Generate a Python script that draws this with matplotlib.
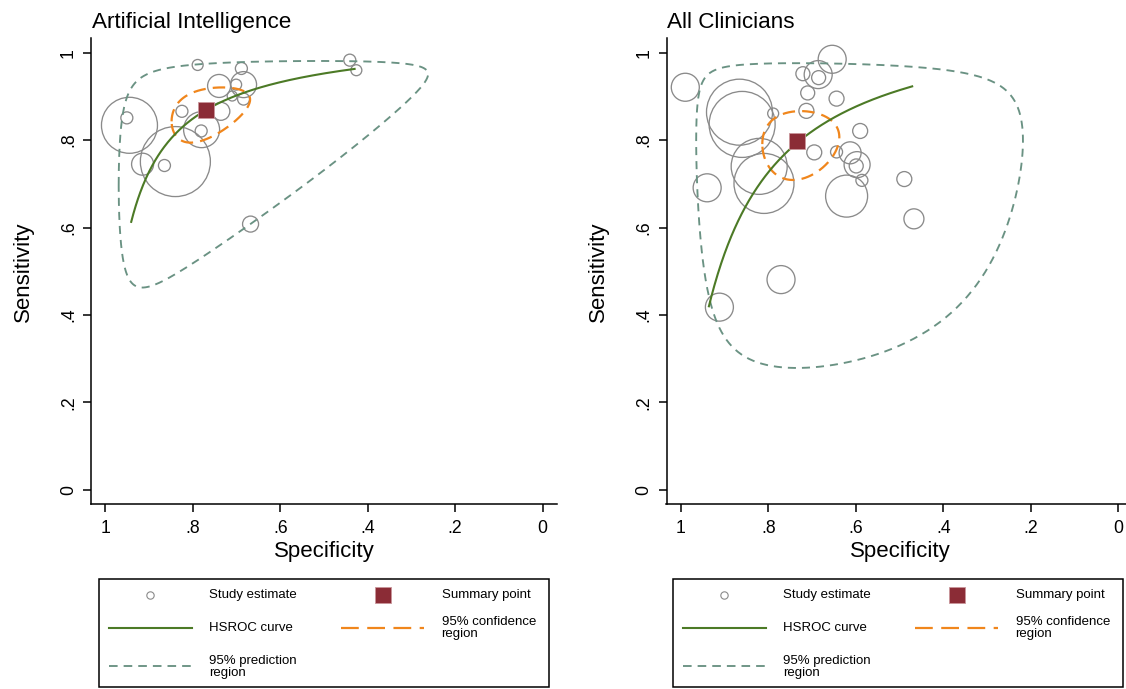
import numpy as np
import matplotlib
matplotlib.use("Agg")
import matplotlib.pyplot as plt
from matplotlib.lines import Line2D
from matplotlib.patches import Rectangle

plt.rcParams['font.family'] = ['Liberation Sans', 'DejaVu Sans']

# ---------------- Artificial Intelligence ----------------
ai_spec = [0.945, 0.951, 0.840, 0.915, 0.865, 0.780, 0.781, 0.825, 0.736, 0.740,
           0.789, 0.689, 0.684, 0.701, 0.710, 0.684, 0.441, 0.426, 0.668]
ai_sens = [0.834, 0.851, 0.751, 0.745, 0.742, 0.824, 0.821, 0.866, 0.866, 0.924,
           0.972, 0.964, 0.927, 0.927, 0.901, 0.894, 0.983, 0.960, 0.608]
ai_weight = [784, 36, 1225, 121, 36, 324, 36, 36, 81, 132,
             30, 36, 169, 30, 25, 36, 36, 30, 64]
ai_summary = [0.771, 0.870]                 # specificity, sensitivity
ai_hsroc_coef = [3.00, 0.917]               # logit(sens) = a + b * logit(1 - spec)
ai_hsroc_spec = [0.941, 0.430]
ai_conf_region = [0.51, 0.55, -0.40]        # logit half-widths (spec, sens), correlation
ai_pred_region = [2.25, 2.05, -0.52]

# ---------------- All Clinicians ----------------
cl_spec = [0.990, 0.866, 0.860, 0.789, 0.821, 0.810, 0.940, 0.771, 0.912, 0.654,
           0.686, 0.685, 0.721, 0.710, 0.644, 0.713, 0.590, 0.695, 0.644, 0.613,
           0.597, 0.599, 0.586, 0.621, 0.489, 0.467]
cl_sens = [0.921, 0.864, 0.836, 0.861, 0.740, 0.701, 0.691, 0.481, 0.418, 0.985,
           0.950, 0.943, 0.952, 0.908, 0.895, 0.867, 0.821, 0.772, 0.773, 0.771,
           0.744, 0.741, 0.708, 0.672, 0.711, 0.620]
cl_weight = [196, 1089, 1089, 30, 784, 900, 196, 196, 196, 196,
             196, 49, 49, 49, 56, 56, 56, 56, 36, 121,
             169, 49, 36, 441, 56, 100]
cl_summary = [0.735, 0.799]
cl_hsroc_coef = [2.368, 1.003]
cl_hsroc_spec = [0.936, 0.471]
cl_conf_region = [0.455, 0.49, -0.10]
cl_pred_region = [2.30, 2.33, 0.0]

tick_vals = [0, 0.2, 0.4, 0.6, 0.8, 1.0]
tick_text = ['0', '.2', '.4', '.6', '.8', '1']

BUBBLE = '#8a8a8a'
CURVE = '#4c7a26'
SUMMARY = '#8b2c36'
CONF = '#f0861c'
PRED = '#6a9283'


def logit(p):
    p = np.asarray(p, dtype=float)
    return np.log(p / (1 - p))


def expit(x):
    return 1 / (1 + np.exp(-x))


def hsroc_curve(coef, spec_ends, n=300):
    spec = np.linspace(spec_ends[0], spec_ends[1], n)
    sens = expit(coef[0] + coef[1] * logit(1 - spec))
    return spec, sens


def region_outline(summary, region, n=400):
    half_spec, half_sens, rho = region
    t = np.linspace(0, 2 * np.pi, n)
    ls = logit(summary[0]) + half_spec * np.cos(t)
    le = logit(summary[1]) + half_sens * (rho * np.cos(t) + np.sqrt(1 - rho ** 2) * np.sin(t))
    return expit(ls), expit(le)


W, H = 1126, 689
fig = plt.figure(figsize=(W / 100, H / 100), dpi=100)


def px_axes(x0, y0, x1, y1):
    return fig.add_axes([x0 / W, 1 - y1 / H, (x1 - x0) / W, (y1 - y0) / H])


def draw_panel(ax, title, spec, sens, weight, summary, coef, spec_ends, conf, pred):
    ax.set_xlim(1.033, -0.033)
    ax.set_ylim(-0.033, 1.033)
    s = 2.0736 * np.asarray(weight, dtype=float)
    ax.scatter(spec, sens, s=s, facecolors='none', edgecolors=BUBBLE,
               linewidths=0.95, zorder=2)
    px, py = region_outline(summary, pred)
    ax.plot(px, py, color=PRED, lw=1.35, linestyle=(0, (4.3, 3.2)), zorder=3)
    cx, cy = region_outline(summary, conf)
    ax.plot(cx, cy, color=CONF, lw=1.6, linestyle=(0, (5.6, 3.2)), zorder=4)
    hx, hy = hsroc_curve(coef, spec_ends)
    ax.plot(hx, hy, color=CURVE, lw=1.5, zorder=5)
    ax.plot([summary[0]], [summary[1]], marker='s', markersize=11.5,
            markerfacecolor=SUMMARY, markeredgecolor='#c9959b',
            markeredgewidth=0.6, linestyle='none', zorder=6)

    for side in ('top', 'right'):
        ax.spines[side].set_visible(False)
    for side in ('left', 'bottom'):
        ax.spines[side].set_linewidth(1.1)
    ax.set_xticks(tick_vals)
    ax.set_xticklabels(tick_text)
    ax.set_yticks(tick_vals)
    ax.set_yticklabels(tick_text)
    ax.tick_params(axis='x', length=6, width=1.1, pad=5, labelsize=12.7)
    ax.tick_params(axis='y', length=6, width=1.1, pad=4, labelsize=12.7,
                   labelrotation=90)
    for lab in ax.get_yticklabels():
        lab.set_va('center')
    ax.set_xlabel('Specificity', fontsize=16)
    ax.xaxis.set_label_coords(0.501, -0.102)
    ax.xaxis.label.set_va('center')
    ax.set_ylabel('Sensitivity', fontsize=16)
    ax.yaxis.set_label_coords(-0.145, 0.5)
    ax.yaxis.label.set_va('center')
    ax.text(0.0015, 1.0 + 10.5 / 466, title, transform=ax.transAxes,
            fontsize=16.2, ha='left', va='baseline')


ax1 = px_axes(91, 38.3, 557, 504.3)
draw_panel(ax1, 'Artificial Intelligence', ai_spec, ai_sens, ai_weight, ai_summary,
           ai_hsroc_coef, ai_hsroc_spec, ai_conf_region, ai_pred_region)

ax2 = px_axes(666.5, 38.3, 1132.5, 504.3)
draw_panel(ax2, 'All Clinicians', cl_spec, cl_sens, cl_weight, cl_summary,
           cl_hsroc_coef, cl_hsroc_spec, cl_conf_region, cl_pred_region)

# Legend boxes drawn in pixel space
leg = fig.add_axes([0, 0, 1, 1], facecolor='none')
leg.set_xlim(0, W)
leg.set_ylim(H, 0)
leg.axis('off')

FS = 9.5
for dx in (0, 574):
    leg.add_patch(Rectangle((99 + dx, 579), 450, 108, fill=False,
                            edgecolor='black', lw=1.1))
    leg.add_line(Line2D([150 + dx], [594.5], marker='o', markersize=5.3,
                        markerfacecolor='none', markeredgecolor=BUBBLE,
                        markeredgewidth=0.8, linestyle='none'))
    leg.text(209 + dx, 595, 'Study estimate', fontsize=FS, va='center', ha='left')
    leg.add_line(Line2D([382.5 + dx], [594.5], marker='s', markersize=12.2,
                        markerfacecolor=SUMMARY, markeredgecolor='#c9959b',
                        markeredgewidth=0.6, linestyle='none'))
    leg.text(441.5 + dx, 595, 'Summary point', fontsize=FS, va='center', ha='left')
    leg.add_line(Line2D([109 + dx, 192 + dx], [627.5, 627.5], color=CURVE, lw=1.5))
    leg.text(209 + dx, 628, 'HSROC curve', fontsize=FS, va='center', ha='left')
    leg.add_line(Line2D([341 + dx, 424 + dx], [627.5, 627.5], color=CONF, lw=1.6,
                        linestyle=(0, (8.0, 3.8))))
    leg.text(441.5 + dx, 628, '95% confidence\nregion', fontsize=FS, va='center',
             ha='left', linespacing=1.1)
    leg.add_line(Line2D([109 + dx, 192 + dx], [665.5, 665.5], color=PRED, lw=1.35,
                        linestyle=(0, (4.6, 3.2))))
    leg.text(209 + dx, 667, '95% prediction\nregion', fontsize=FS, va='center',
             ha='left', linespacing=1.1)

fig.savefig('out.png', dpi=100)
